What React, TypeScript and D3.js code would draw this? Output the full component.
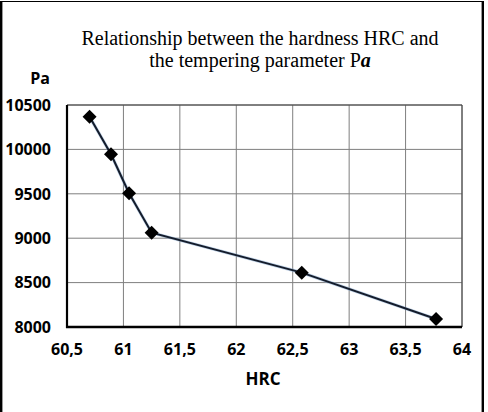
import { useEffect, useRef } from 'react'
import * as d3 from 'd3'

const hrc = [60.7, 60.89, 61.05, 61.25, 62.58, 63.77]
const pa = [10368, 9945, 9506, 9062, 8612, 8090]
const xTicks = [60.5, 61, 61.5, 62, 62.5, 63, 63.5, 64]
const yTicks = [8000, 8500, 9000, 9500, 10000, 10500]

const W = 488
const H = 412

export default function App() {
  const svgRef = useRef<SVGSVGElement>(null)

  useEffect(() => {
    document.body.style.margin = '0'
    if (!svgRef.current) return
    const svg = d3.select(svgRef.current)
    svg.selectAll('*').remove()

    const left = 67, right = 462, top = 105, bottom = 327
    const x = d3.scaleLinear().domain([60.5, 64]).range([left, right])
    const y = d3.scaleLinear().domain([8000, 10500]).range([bottom, top])
    const sans = 'Open Sans, sans-serif'

    svg.append('rect').attr('width', W).attr('height', H).attr('fill', '#fff')

    // outer frame
    svg.append('line').attr('x1', 1).attr('x2', 483).attr('y1', 1.5).attr('y2', 1.5)
      .attr('stroke', '#000').attr('stroke-width', 1.2)
    svg.append('line').attr('x1', 1.2).attr('x2', 1.2).attr('y1', 1).attr('y2', H)
      .attr('stroke', '#000').attr('stroke-width', 2.4)
    svg.append('line').attr('x1', 482.8).attr('x2', 482.8).attr('y1', 1).attr('y2', H)
      .attr('stroke', '#000').attr('stroke-width', 2.4)

    // title
    const title = svg.append('text')
      .attr('text-anchor', 'middle')
      .style('font-family', 'Liberation Serif, Times New Roman, serif')
      .style('font-size', '20px')
      .style('fill', '#000')
    title.append('tspan').attr('x', 260).attr('y', 45).text('Relationship between the hardness HRC and')
    const t2 = title.append('tspan').attr('x', 260).attr('y', 67)
    t2.append('tspan').text('the tempering parameter P')
    t2.append('tspan').style('font-weight', 'bold').style('font-style', 'italic').text('a')

    // grid
    const g = svg.append('g')
    g.selectAll('.vg').data(xTicks.slice(1)).enter().append('line')
      .attr('x1', d => x(d)).attr('x2', d => x(d)).attr('y1', top).attr('y2', bottom)
      .attr('stroke', '#7f7f7f').attr('stroke-width', 1)
    g.selectAll('.hg').data(yTicks.slice(1)).enter().append('line')
      .attr('x1', left).attr('x2', right).attr('y1', d => y(d)).attr('y2', d => y(d))
      .attr('stroke', '#7f7f7f').attr('stroke-width', 1)
    g.append('line').attr('x1', right).attr('x2', right).attr('y1', top).attr('y2', bottom)
      .attr('stroke', '#404040').attr('stroke-width', 1)
    g.append('line').attr('x1', left).attr('x2', right).attr('y1', top).attr('y2', top)
      .attr('stroke', '#404040').attr('stroke-width', 1)

    // axes lines
    g.append('line').attr('x1', left).attr('x2', left).attr('y1', top).attr('y2', bottom + 1)
      .attr('stroke', '#000').attr('stroke-width', 2.2)
    g.append('line').attr('x1', left - 1).attr('x2', right).attr('y1', bottom).attr('y2', bottom)
      .attr('stroke', '#000').attr('stroke-width', 2.4)

    // tick labels
    g.selectAll('.yl').data(yTicks).enter().append('text')
      .attr('x', 51).attr('y', d => y(d)).attr('dy', '0.36em')
      .attr('text-anchor', 'end')
      .style('font-family', sans).style('font-weight', 'bold').style('font-size', '16px')
      .style('fill', '#000')
      .text(d => String(d))
    g.selectAll('.xl').data(xTicks).enter().append('text')
      .attr('x', d => x(d)).attr('y', 355)
      .attr('text-anchor', 'middle')
      .style('font-family', sans).style('font-weight', 'bold').style('font-size', '16px')
      .style('fill', '#000')
      .text(d => String(d).replace('.', ','))

    // axis titles
    svg.append('text').attr('x', 50).attr('y', 84).attr('text-anchor', 'end')
      .style('font-family', sans).style('font-weight', 'bold').style('font-size', '16px')
      .text('Pa')
    svg.append('text').attr('x', 263).attr('y', 385).attr('text-anchor', 'middle')
      .style('font-family', sans).style('font-weight', 'bold').style('font-size', '17px')
      .text('HRC')

    // series
    const pts = hrc.map((h, i) => [h, pa[i]] as [number, number])
    const line = d3.line<[number, number]>().x(d => x(d[0])).y(d => y(d[1]))
    svg.append('path').attr('d', line(pts) || '')
      .attr('fill', 'none').attr('stroke', '#7fa6d0').attr('stroke-width', 3.2).attr('opacity', 0.5)
    svg.append('path').attr('d', line(pts) || '')
      .attr('fill', 'none').attr('stroke', '#141c2b').attr('stroke-width', 2)

    const diamond = d3.symbol().type(d3.symbolDiamond2).size(125)
    svg.selectAll('.pt').data(pts).enter().append('path')
      .attr('d', diamond())
      .attr('transform', d => `translate(${x(d[0])},${y(d[1])})`)
      .attr('fill', '#000')
  }, [])

  return <svg ref={svgRef} width={W} height={H} style={{ display: 'block' }} />
}
